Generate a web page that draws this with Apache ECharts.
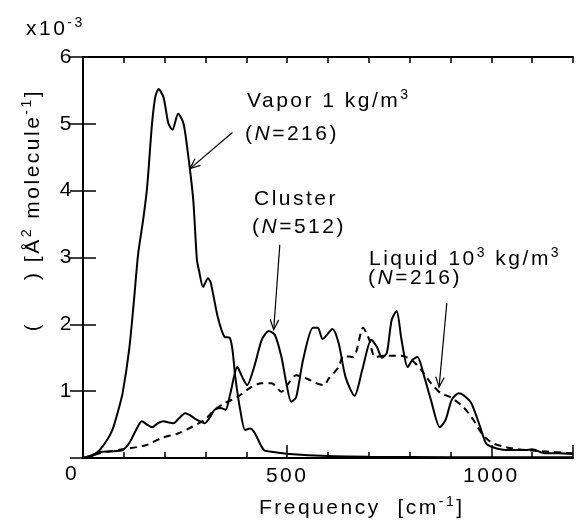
<!DOCTYPE html>
<html>
<head>
<meta charset="utf-8">
<script src="https://cdn.jsdelivr.net/npm/echarts@6/dist/echarts.min.js"></script>
<style>html,body{margin:0;padding:0;background:#fff}#c{width:576px;height:521px}</style>
</head>
<body>
<div id="c"></div>
<script>
// Letter-spaced text like the reference typesetting
(function(){
  var LS='2.5px', P=CanvasRenderingContext2D.prototype;
  var f=P.fillText, m=P.measureText;
  P.fillText=function(){this.letterSpacing=LS;return f.apply(this,arguments);};
  P.measureText=function(){this.letterSpacing=LS;return m.apply(this,arguments);};
})();

// ---- data (y in units of 1e-3 Å^2 molecule^-1) ----
const xTickLabels = ['0','500','1000'];
const yTickLabels = ['0','1','2','3','4','5','6'];

const vaporFreq = [0,20,41,60,72,85,97,113,125,135,147,157,169,177,185,197,209,219,233,246,258,270,279,284,294,306,313,330,347,359,366,373,385,397,409,418,426,443,467,506,600,700,900,1200];
const vaporVal  = [0,0.02,0.12,0.28,0.42,0.68,0.97,1.62,2.37,3.05,3.55,4.05,5.00,5.40,5.52,5.40,5.01,4.91,5.15,5.01,4.51,3.86,2.96,2.81,2.56,2.69,2.62,2.11,1.81,1.80,1.62,1.21,0.72,0.42,0.44,0.40,0.31,0.12,0.09,0.06,0.03,0.02,0.01,0.01];

const clusterFreq = [0,20,41,70,97,113,130,144,157,169,183,197,210,221,236,250,262,274,286,298,310,322,337,349,361,378,390,402,419,438,455,470,486,498,510,522,539,563,575,587,611,626,643,665,684,706,720,732,744,756,768,780,795,807,819,836,852,874,888,903,920,932,951,973,987,1004,1035,1084,1100,1132,1165,1200];
const clusterVal  = [0,0.04,0.09,0.10,0.12,0.22,0.42,0.55,0.50,0.46,0.52,0.55,0.53,0.52,0.60,0.67,0.64,0.59,0.55,0.52,0.60,0.72,0.75,0.72,0.97,1.36,1.21,1.09,1.36,1.77,1.90,1.84,1.51,1.12,0.84,0.91,1.47,1.95,1.95,1.78,1.93,1.72,1.21,0.93,1.32,1.77,1.66,1.50,1.57,2.07,2.20,1.77,1.36,1.47,1.51,1.21,0.87,0.46,0.57,0.87,0.97,0.94,0.82,0.46,0.22,0.16,0.12,0.12,0.13,0.07,0.07,0.06];

const liquidFreq = [0,20,41,97,154,193,234,265,298,322,347,378,409,438,462,486,506,522,547,571,590,602,626,638,662,686,701,715,739,780,804,828,852,876,900,932,956,980,1004,1045,1084,1149,1200];
const liquidVal  = [0,0.03,0.07,0.13,0.19,0.30,0.37,0.46,0.57,0.72,0.82,0.91,1.05,1.12,1.12,0.99,1.14,1.24,1.19,1.12,1.09,1.19,1.36,1.53,1.51,1.95,1.77,1.51,1.53,1.53,1.47,1.32,1.12,0.97,0.91,0.76,0.57,0.34,0.22,0.15,0.12,0.09,0.07];

function pairs(xs, ys){ return xs.map(function(x,i){return [x, ys[i]];}); }

const FONT = 'Liberation Sans, Arial, sans-serif';
const BLACK = '#000';
const FS = 21;
const axisLine = {show:true, lineStyle:{color:BLACK, width:2}};

const chart = echarts.init(document.getElementById('c'), null, {renderer:'canvas'});

const option = {
  backgroundColor:'#fff',
  animation:false,
  grid:{left:83, right:-5, top:57, bottom:63, containLabel:false},
  xAxis:[
    {type:'value', position:'bottom', min:0, max:1200, interval:500,
     axisLine:axisLine,
     axisTick:{show:true, inside:true, length:13, lineStyle:{color:BLACK,width:1.5}},
     axisLabel:{show:true, margin:6, fontFamily:FONT, fontSize:FS, color:BLACK,
       formatter:function(v){ var s=String(v); return (v>0 && xTickLabels.indexOf(s)>=0)?s:''; }},
     splitLine:{show:false}},
    {type:'value', position:'bottom', min:0, max:1200, interval:100,
     axisLine:{show:false},
     axisTick:{show:true, inside:true, length:6, lineStyle:{color:BLACK,width:1.5}},
     axisLabel:{show:false}, splitLine:{show:false}},
    {type:'value', position:'top', min:0, max:1200, interval:100,
     axisLine:axisLine,
     axisTick:{show:true, inside:true, length:6, lineStyle:{color:BLACK,width:1.5}},
     axisLabel:{show:false}, splitLine:{show:false}}
  ],
  yAxis:[
    {type:'value', position:'left', min:0, max:6, interval:1,
     axisLine:axisLine,
     axisTick:{show:true, inside:true, length:13, lineStyle:{color:BLACK,width:1.5}},
     axisLabel:{show:true, margin:9, fontFamily:FONT, fontSize:FS, color:BLACK,
       formatter:function(v){ var s=String(v); return (v>0 && yTickLabels.indexOf(s)>=0)?s:''; }},
     splitLine:{show:false}},
    {type:'value', position:'right', min:0, max:6, interval:1,
     axisLine:axisLine,
     axisTick:{show:true, inside:true, length:13, lineStyle:{color:BLACK,width:1.5}},
     axisLabel:{show:false}, splitLine:{show:false}}
  ],
  series:[
    {name:'Vapor', type:'line', xAxisIndex:0, yAxisIndex:0, data:pairs(vaporFreq,vaporVal),
     showSymbol:false, smooth:0.25, lineStyle:{color:BLACK, width:2}},
    {name:'Cluster', type:'line', xAxisIndex:0, yAxisIndex:0, data:pairs(clusterFreq,clusterVal),
     showSymbol:false, smooth:0.25, lineStyle:{color:BLACK, width:2}},
    {name:'Liquid', type:'line', xAxisIndex:0, yAxisIndex:0, data:pairs(liquidFreq,liquidVal),
     showSymbol:false, smooth:0.25, lineStyle:{color:BLACK, width:2, type:[7,5]}}
  ]
};
chart.setOption(option);

const rich = {
  n:{fontSize:FS, fontFamily:FONT, fill:BLACK},
  i:{fontSize:FS, fontFamily:FONT, fontStyle:'italic', fill:BLACK},
  s:{fontSize:14, fontFamily:FONT, fill:BLACK, padding:[0,0,11,0]}
};
function txt(x, y, text, opts){
  opts = opts || {};
  return {type:'text', x:x, y:y, rotation:opts.rotation||0, z:10,
    style:{text:text, rich:rich, fontSize:FS, fontFamily:FONT, fill:BLACK,
      align:opts.align||'left', verticalAlign:opts.va||'middle'}};
}
function arrow(x1,y1,x2,y2){
  var a = chart.convertToPixel({xAxisIndex:0,yAxisIndex:0},[x1,y1]);
  var b = chart.convertToPixel({xAxisIndex:0,yAxisIndex:0},[x2,y2]);
  var ang = Math.atan2(b[1]-a[1], b[0]-a[0]), L=11, w=0.4;
  var p1=[b[0]-L*Math.cos(ang-w), b[1]-L*Math.sin(ang-w)];
  var p2=[b[0]-L*Math.cos(ang+w), b[1]-L*Math.sin(ang+w)];
  return [
    {type:'line', z:10, shape:{x1:a[0],y1:a[1],x2:b[0],y2:b[1]}, style:{stroke:BLACK, lineWidth:1.2}},
    {type:'polyline', z:10, shape:{points:[p1,b,p2]}, style:{stroke:BLACK, lineWidth:1.2, fill:null}}
  ];
}

var g = [];
g.push(txt(26, 29, '{n|x10}{s|-3}'));
g.push(txt(72, 474, '{n|0}', {align:'center'}));
g.push(txt(33, 210, '{n|(     ) [Å}{s|2}{n| molecule}{s|-1}{n|]}', {align:'center', rotation:Math.PI/2}));
g.push(txt(259, 508, '{n|Frequency  [cm}{s|-1}{n|]}'));
g.push(txt(247, 101, '{n|Vapor 1 kg/m}{s|3}'));
g.push(txt(245, 134, '{n|(}{i|N}{n|=216)}'));
g.push(txt(254, 199, '{n|Cluster}'));
g.push(txt(252, 227, '{n|(}{i|N}{n|=512)}'));
g.push(txt(369, 259, '{n|Liquid 10}{s|3}{n| kg/m}{s|3}'));
g.push(txt(368, 278, '{n|(}{i|N}{n|=216)}'));
g = g.concat(arrow(366,4.87,262,4.33), arrow(482,3.19,467,1.92), arrow(891,2.32,872,1.06));
chart.setOption({graphic:g});
</script>
</body>
</html>
